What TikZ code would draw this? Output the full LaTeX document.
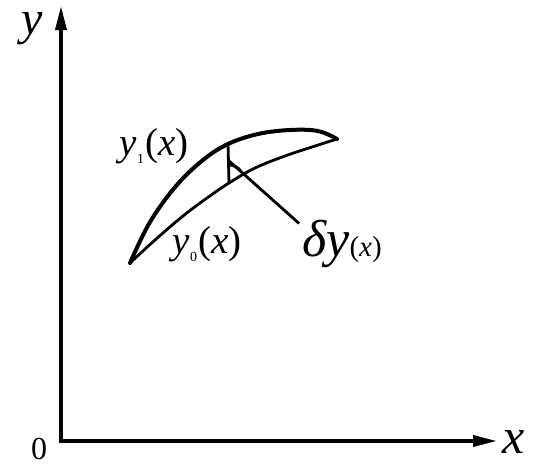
\documentclass[tikz,border=0pt]{standalone}
\usepackage{fontspec}
\setmainfont{Liberation Serif}[ItalicFont={Liberation Serif Italic}]
\usetikzlibrary{arrows.meta}
\newcommand\fnsz[1]{\fontsize{#1}{#1}\selectfont}
\begin{document}
\begin{tikzpicture}[x=1pt,y=-1pt,
axis/.style={line width=3.5pt,-{Triangle[length=24pt,width=11pt]}},
upper/.style={line width=4pt,line cap=round,line join=round},
lower/.style={line width=2.8pt,line cap=round,line join=round},
lbl/.style={inner sep=0pt,anchor=base,font=\fnsz{39}\itshape}]
\useasboundingbox (0,0) rectangle (535,463);
% axes
\coordinate (origin) at (61,441);
\coordinate (ytip) at (61,6);
\coordinate (xtip) at (497,441);
\draw[axis] (61,442.75) -- (ytip);
\draw[axis] (origin) -- (xtip);
\node[lbl,font=\fnsz{48}\itshape,text height=23pt,text depth=11pt] (ylab) at (32,34) {y};
\node[lbl,font=\fnsz{50}\itshape,text height=24pt,text depth=0pt] (xlab) at (514,453) {x};
\node[lbl,font=\fnsz{32},text height=22pt,text depth=0pt] (zero) at (39,459) {0};
% the two curves
\coordinate (left) at (130,263);
\coordinate (right) at (337,139);
\draw[upper] plot[smooth,tension=0.6] coordinates
  {(left) (150,222) (176,186) (203,160) (228,144) (258,134) (290,130) (318,131) (right)};
\draw[lower] plot[smooth,tension=0.6] coordinates
  {(left) (155,240) (183,216) (207,198) (229,183) (255,168) (285,156) (312,147) (right)};
% variation
\coordinate (top) at (228,144);
\coordinate (bot) at (229,183);
\coordinate (wedge) at (228,160);
\draw[lower] (top) -- (bot);
\draw[lower] (240.5,170.5) arc[start angle=41,end angle=90,radius=16pt];
% labels
\node[lbl] (yone) at (154,155) {y\raisebox{-8pt}{\fnsz{14}\upshape 1}\kern1pt{\upshape(}x{\upshape)}};
\node[lbl] (yzero) at (207,253) {y\raisebox{-8pt}{\fnsz{14}\upshape 0}\kern1pt{\upshape(}x{\upshape)}};
\node[lbl,font=\fnsz{52}\itshape] (dy) at (342,256) {δy{\fnsz{29}\upshape(}{\fnsz{29}x}{\fnsz{29}\upshape)}};
\draw[line width=2.8pt] (wedge) -- ([xshift=-3pt,yshift=-4pt]dy.north west);
\end{tikzpicture}
\end{document}
